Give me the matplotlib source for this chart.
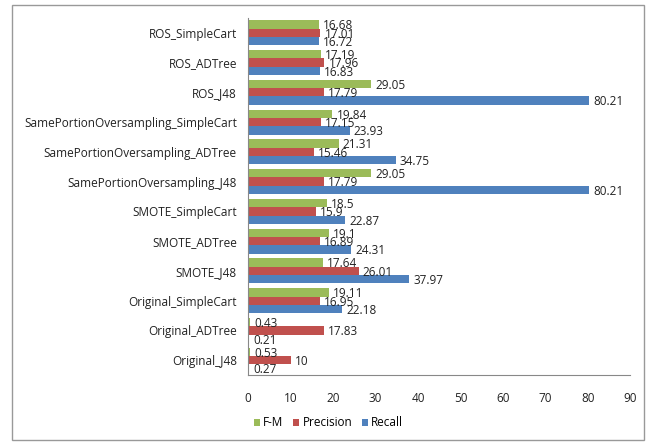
import numpy as np
from matplotlib import pyplot as plt
from matplotlib.patches import Rectangle

plt.rcParams['font.family'] = ['Open Sans', 'DejaVu Sans']

# categories listed bottom to top
categories = ["Original_J48", "Original_ADTree", "Original_SimpleCart",
              "SMOTE_J48", "SMOTE_ADTree", "SMOTE_SimpleCart",
              "SamePortionOversampling_J48", "SamePortionOversampling_ADTree",
              "SamePortionOversampling_SimpleCart",
              "ROS_J48", "ROS_ADTree", "ROS_SimpleCart"]
fm = [0.53, 0.43, 19.11, 17.64, 19.1, 18.5, 29.05, 21.31, 19.84, 29.05, 17.19, 16.68]
precision = [10, 17.83, 16.95, 26.01, 16.89, 15.9, 17.79, 15.46, 17.15, 17.79, 17.96, 17.01]
recall = [0.27, 0.21, 22.18, 37.97, 24.31, 22.87, 80.21, 34.75, 23.93, 80.21, 16.83, 16.72]
series_names = ["F-M", "Precision", "Recall"]
colors = ["#9BBB59", "#C0504D", "#4F81BD"]

fig = plt.figure(figsize=(6.57, 4.45), dpi=100)
ax = fig.add_axes([0.3775, 0.157, 0.582, 0.803])

y = np.arange(len(categories))
h = 0.28
offsets = [h, 0, -h]
for vals, name, col, off in zip([fm, precision, recall], series_names, colors, offsets):
    bars = ax.barh(y + off, vals, height=h, color=col, label=name)
    for b, v in zip(bars, vals):
        ax.annotate(f"{v:g}", (b.get_width(), b.get_y() + b.get_height() / 2),
                    xytext=(3, -1), textcoords="offset points",
                    va="center", ha="left", fontsize=8.5, color="#222222")

ax.set_xlim(0, 90)
ax.set_xticks(range(0, 91, 10))
ax.set_ylim(-0.5, len(categories) - 0.5)
ax.set_yticks(y)
ax.set_yticklabels(categories, fontsize=8.5, color="#222222")
ax.tick_params(axis="x", length=0, pad=12, labelsize=8.5, labelcolor="#222222")
ax.tick_params(axis="y", length=0, pad=8)
for s in ["top", "right"]:
    ax.spines[s].set_visible(False)
for s in ["left", "bottom"]:
    ax.spines[s].set_color("#888888")
    ax.spines[s].set_linewidth(0.8)

fig.legend(loc="center", bbox_to_anchor=(0.5, 1 - 423 / 445), ncol=3, frameon=False,
           fontsize=8.5, handlelength=0.5, handleheight=0.5, handletextpad=0.3,
           columnspacing=0.8)

fig.patches.append(Rectangle((12 / 657, 5 / 445), 632 / 657, 435 / 445,
                             transform=fig.transFigure, fill=False,
                             edgecolor="#999999", linewidth=1))

plt.savefig("out.png", dpi=100)
